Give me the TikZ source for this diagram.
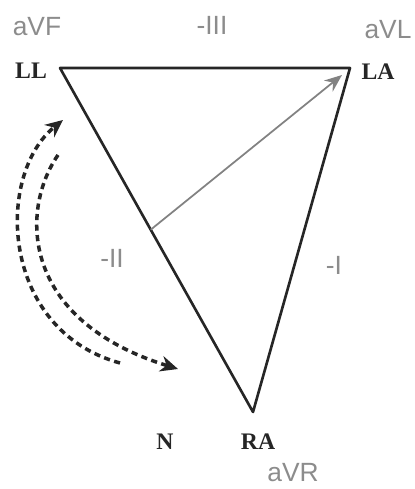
\documentclass[tikz,border=0pt]{standalone}
\usepackage{fontspec}
\setmainfont{Liberation Serif}
\newfontfamily\leadfont{Liberation Sans}
\usepackage{tikz}
\usetikzlibrary{arrows.meta,calc}
\definecolor{leadgray}{RGB}{140, 140, 140}
\definecolor{axisgray}{RGB}{130, 130, 130}

\begin{document}
\begin{tikzpicture}[
    x=0.02cm, y=-0.02cm,
    limb/.style={font=\fontsize{13.5}{15}\selectfont\bfseries, text=black!85, inner sep=0pt},
    lead/.style={font=\leadfont\fontsize{15}{17}\selectfont, text=leadgray, inner sep=0pt},
    side/.style={line width=1.5pt, black!85, line join=round},
    vector/.style={-{Stealth[length=10pt, width=8pt]}, line width=1pt, axisgray},
    swing/.style={-{Stealth[length=10pt, width=9pt]}, line width=2pt, black!85, dash pattern=on 3.5pt off 2.5pt}
]
\useasboundingbox (0,0) rectangle (414,489);

% Corners
\coordinate (ll) at (60,68);
\coordinate (la) at (350,68);
\coordinate (ra) at (253,412);
\coordinate (mid) at ($(ll)!0.47!(ra)$);
\coordinate (vectip) at (342,75);
\coordinate (outstart) at (120,363);
\coordinate (outend) at (63,120);
\coordinate (instart) at (58,155);
\coordinate (inend) at (178,369);

% Nodes
\node[limb] (llname) at (31,71) {LL};
\node[limb] (laname) at (378,72) {LA};
\node[limb] (nname) at (165,442) {N};
\node[limb] (raname) at (258,442) {RA};
\node[lead] (avf) at (37,27) {aVF};
\node[lead] (avl) at (388,30) {aVL};
\node[lead] (avr) at (293,473) {aVR};
\node[lead] (lead3) at (212,25) {-III};
\node[lead] (lead2) at (112,258) {-II};
\node[lead] (lead1) at (334,265) {-I};

% Triangle
\draw[side] (ll) -- (la) -- (ra) -- cycle;

% Arrows
\draw[vector] (mid) -- (vectip);
\draw[swing] (outstart) .. controls (0,330) and (-5,175) .. (outend);
\draw[swing] (instart) .. controls (20,210) and (20,320) .. (inend);
\end{tikzpicture}
\end{document}
